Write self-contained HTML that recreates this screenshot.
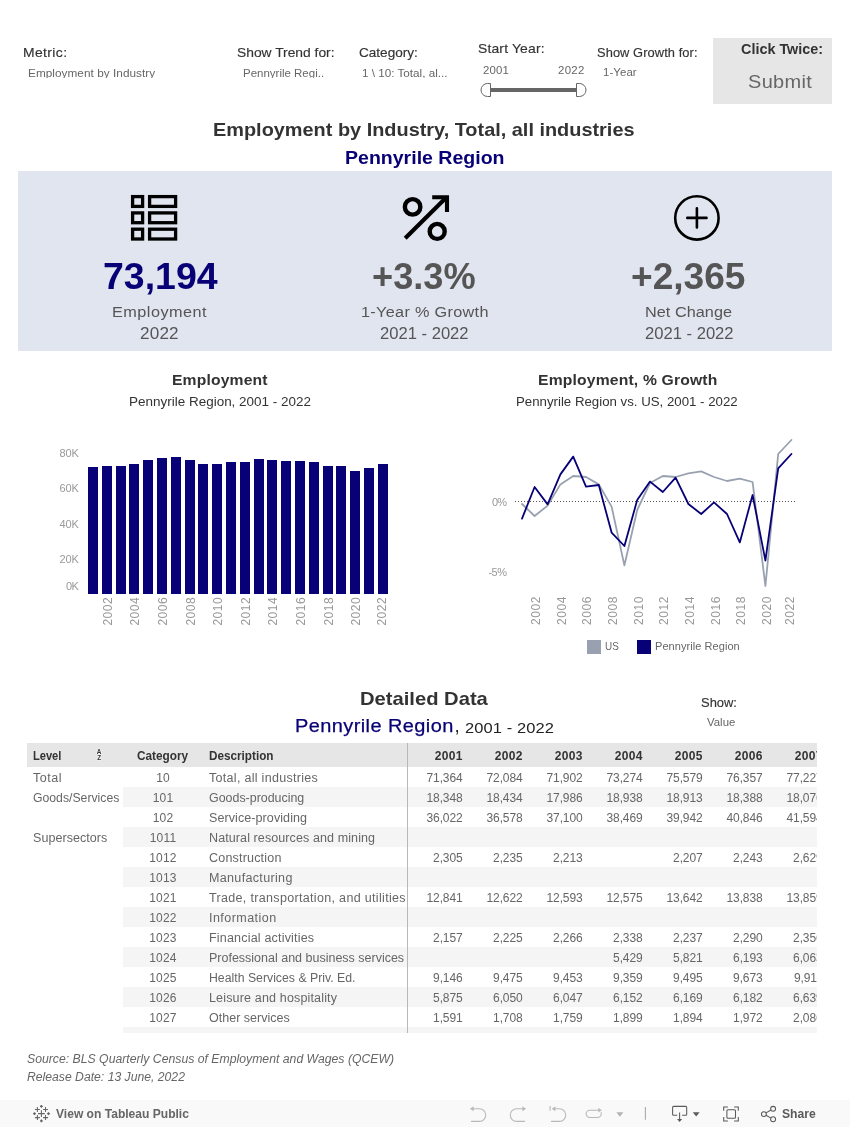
<!DOCTYPE html>
<html lang="en">
<head>
<meta charset="utf-8">
<title>Employment by Industry - Pennyrile Region</title>
<style>
html,body{margin:0;padding:0;background:#fff}
body{width:850px;height:1127px;position:relative;overflow:hidden;font-family:"Liberation Sans",Arial,sans-serif}
.abs{position:absolute}
.t{position:absolute;white-space:pre;line-height:1;transform-origin:0 0}
.clip{position:absolute;overflow:hidden}
svg{display:block;overflow:visible}
#table{position:absolute;left:27px;top:743px;width:790px;height:289.8px;overflow:hidden;font-size:12px;color:#666}
#table .hdr{position:absolute;left:0;top:0;width:100%;height:24px;line-height:27px;background:#e6e6e6;color:#333;font-weight:700}
#table .row{position:absolute;left:0;width:100%;height:20px;line-height:23px}
#table .band::before{content:"";position:absolute;left:96px;top:0;right:0;bottom:0;background:#f5f5f5}
#table span{position:absolute;top:0;white-space:pre;transform-origin:0 0}
#table .lv{left:6.3px}
#table .cat{left:96px;width:80px;text-align:center;letter-spacing:.2px}
#table .hdr .cat{left:110.3px;width:auto}
#table .ds{left:182.2px}
#table .num,#table .yr{width:55.6px;text-align:right;letter-spacing:-.1px}
#table .yr{letter-spacing:.35px;width:55.9px}
#table .sort{left:69.4px;top:6.4px;width:6px;height:12px}
#table .sort i{position:absolute;left:0;width:5.4px;text-align:center;font:700 6.4px/1 "Liberation Sans",sans-serif;color:#333;text-shadow:0 0 1px #fff,0 0 1.5px #fff,0 0 2px #fff}
#table .sort i+i{top:6.1px}
#table .vline{position:absolute;left:380px;top:0;width:1px;height:100%;background:#b8b8b8}
</style>
</head>
<body>
<div id="controls">
<div class="t" style="left:22.8px;top:45.9px;font-size:13px;color:#333333;letter-spacing:0.36px;transform:scaleX(1.070);-webkit-text-stroke:0.15px #333333;">Metric:</div>
<div class="clip" style="left:24px;top:62px;width:200px;height:15.7px"><div class="t" style="left:3.7px;top:5.5px;font-size:11px;color:#666666;letter-spacing:0.04px;transform:scaleX(1.070);">Employment by Industry</div></div>
<div class="t" style="left:237.2px;top:45.9px;font-size:13px;color:#333333;transform:scaleX(1.063);-webkit-text-stroke:0.15px #333333;">Show Trend for:</div>
<div class="clip" style="left:238px;top:62px;width:100px;height:15.7px"><div class="t" style="left:4.7px;top:5.5px;font-size:11px;color:#666666;transform:scaleX(1.044);">Pennyrile Regi..</div></div>
<div class="t" style="left:358.5px;top:45.9px;font-size:13px;color:#333333;transform:scaleX(1.044);-webkit-text-stroke:0.15px #333333;">Category:</div>
<div class="clip" style="left:358px;top:62px;width:100px;height:15.7px"><div class="t" style="left:3.8px;top:5.5px;font-size:11px;color:#666666;transform:scaleX(1.062);">1 \ 10: Total, al...</div></div>
<div class="t" style="left:477.7px;top:41.8px;font-size:13px;color:#333333;letter-spacing:0.15px;transform:scaleX(1.070);-webkit-text-stroke:0.15px #333333;">Start Year:</div>
<div class="t" style="left:482.9px;top:64.5px;font-size:10.67px;color:#666666;letter-spacing:0.15px;transform:scaleX(1.070);">2001</div>
<div class="t" style="left:558.0px;top:64.5px;font-size:10.67px;color:#666666;letter-spacing:0.29px;transform:scaleX(1.070);">2022</div>
<svg class="abs" style="left:478px;top:80px" width="112" height="20" viewBox="478 80 112 20">
<rect x="490" y="88" width="87" height="4" fill="#666"/>
<path d="M490.5 83.5h-3a6.5 6.5 0 0 0 0 13h3z" fill="#fff" stroke="#666" stroke-width="1"/>
<path d="M576.5 83.5h3a6.5 6.5 0 0 1 0 13h-3z" fill="#fff" stroke="#666" stroke-width="1"/>
</svg>
<div class="t" style="left:597.2px;top:46.9px;font-size:12px;color:#333333;letter-spacing:0.08px;transform:scaleX(1.070);-webkit-text-stroke:0.15px #333333;">Show Growth for:</div>
<div class="t" style="left:602.7px;top:66.5px;font-size:10.67px;color:#666666;letter-spacing:0.08px;transform:scaleX(1.070);">1-Year</div>
<div class="abs" id="submit" style="left:713px;top:38px;width:119px;height:66px;background:#e6e6e6"></div>
<div class="t" style="left:740.5px;top:41.7px;font-size:14.67px;color:#333333;transform:scaleX(0.982);font-weight:700;">Click Twice:</div>
<div class="t" style="left:748.3px;top:72.5px;font-size:18.67px;color:#666666;letter-spacing:0.30px;transform:scaleX(1.070);">Submit</div>
</div>
<div class="t" style="left:213.4px;top:120.2px;font-size:19px;color:#333333;transform:scaleX(1.047);font-weight:700;">Employment by Industry, Total, all industries</div>
<div class="t" style="left:345.3px;top:148.0px;font-size:19px;color:#080076;transform:scaleX(1.028);font-weight:700;">Pennyrile Region</div>
<div class="abs" id="kpis" style="left:18px;top:171px;width:814px;height:180px;background:#e1e5f0"></div>
<svg class="abs" style="left:129px;top:193px" width="50" height="50" viewBox="129 193 50 50" fill="none" stroke="#000" stroke-width="3.3">
<rect x="132.6" y="196.6" width="10" height="9.8"/><rect x="149.6" y="196.6" width="26" height="9.8"/>
<rect x="132.6" y="212.9" width="10" height="9.8"/><rect x="149.6" y="212.9" width="26" height="9.8"/>
<rect x="132.6" y="229.2" width="10" height="9.8"/><rect x="149.6" y="229.2" width="26" height="9.8"/>
</svg>
<svg class="abs" style="left:398px;top:190px" width="56" height="56" viewBox="398 190 56 56" fill="none" stroke="#000" stroke-width="4.1">
<circle cx="412.6" cy="206.9" r="7.75" stroke-width="4.4"/><circle cx="437.2" cy="231.4" r="7.5" stroke-width="4.4"/>
<path d="M405.2 238.2L446.5 197.3"/><path d="M432.2 197.2H447V211.9" stroke-linejoin="miter"/>
</svg>
<svg class="abs" style="left:670px;top:191px" width="54" height="54" viewBox="670 191 54 54" fill="none" stroke="#000" stroke-width="2.6" stroke-linecap="round">
<circle cx="696.9" cy="217.9" r="21.7"/><path d="M687.3 217.9h19.2M696.9 208.3v19.2"/>
</svg>
<div class="t" style="left:102.7px;top:258.7px;font-size:36px;color:#080076;transform:scaleX(1.041);font-weight:700;">73,194</div>
<div class="t" style="left:372.4px;top:258.7px;font-size:36px;color:#555;transform:scaleX(1.005);font-weight:700;">+3.3%</div>
<div class="t" style="left:631.3px;top:258.7px;font-size:36px;color:#555;transform:scaleX(1.030);font-weight:700;">+2,365</div>
<div class="t" style="left:112.2px;top:303.8px;font-size:15.2px;color:#555;letter-spacing:0.44px;transform:scaleX(1.070);">Employment</div>
<div class="t" style="left:139.7px;top:326.3px;font-size:16px;color:#555;letter-spacing:0.16px;transform:scaleX(1.070);">2022</div>
<div class="t" style="left:361.2px;top:303.7px;font-size:15.2px;color:#555;letter-spacing:0.29px;transform:scaleX(1.070);">1-Year % Growth</div>
<div class="t" style="left:379.8px;top:326.1px;font-size:16px;color:#555;transform:scaleX(1.037);">2021 - 2022</div>
<div class="t" style="left:645.4px;top:303.7px;font-size:15.2px;color:#555;letter-spacing:0.03px;transform:scaleX(1.070);">Net Change</div>
<div class="t" style="left:644.8px;top:326.1px;font-size:16px;color:#555;transform:scaleX(1.037);">2021 - 2022</div>
<div class="t" style="left:172.3px;top:373.1px;font-size:14.67px;color:#333333;letter-spacing:0.15px;transform:scaleX(1.070);font-weight:700;">Employment</div>
<div class="t" style="left:129.3px;top:394.8px;font-size:13.33px;color:#333333;transform:scaleX(1.011);">Pennyrile Region, 2001 - 2022</div>
<svg class="abs" id="barchart" style="left:40px;top:430px" width="370" height="210" viewBox="40 430 370 210" font-family="Liberation Sans, sans-serif">
<g fill="#080076">
<rect x="88" y="467" width="10" height="127"/>
<rect x="102" y="466" width="10" height="128"/>
<rect x="116" y="466" width="10" height="128"/>
<rect x="129" y="464" width="10" height="130"/>
<rect x="143" y="460" width="10" height="134"/>
<rect x="157" y="458" width="10" height="136"/>
<rect x="171" y="457" width="10" height="137"/>
<rect x="185" y="460" width="10" height="134"/>
<rect x="198" y="464" width="10" height="130"/>
<rect x="212" y="464" width="10" height="130"/>
<rect x="226" y="462" width="10" height="132"/>
<rect x="240" y="462" width="10" height="132"/>
<rect x="254" y="459" width="10" height="135"/>
<rect x="267" y="460" width="10" height="134"/>
<rect x="281" y="461" width="10" height="133"/>
<rect x="295" y="461" width="10" height="133"/>
<rect x="309" y="462" width="10" height="132"/>
<rect x="323" y="466" width="10" height="128"/>
<rect x="336" y="466" width="10" height="128"/>
<rect x="350" y="471" width="10" height="123"/>
<rect x="364" y="468" width="10" height="126"/>
<rect x="378" y="464" width="10" height="130"/>
</g>
<g fill="#999999" font-size="11" text-anchor="end">
<text x="78.8" y="457" textLength="19.3" lengthAdjust="spacing">80K</text>
<text x="78.8" y="492.3" textLength="19.3" lengthAdjust="spacing">60K</text>
<text x="78.8" y="527.7" textLength="19.3" lengthAdjust="spacing">40K</text>
<text x="78.8" y="563" textLength="19.3" lengthAdjust="spacing">20K</text>
<text x="78.8" y="590" textLength="12.9" lengthAdjust="spacing">0K</text>
</g>
<g fill="#999999" font-size="12" text-anchor="end">
<text transform="translate(112 597.3) rotate(-90)" textLength="28.3" lengthAdjust="spacing">2002</text>
<text transform="translate(139 597.3) rotate(-90)" textLength="28.3" lengthAdjust="spacing">2004</text>
<text transform="translate(167 597.3) rotate(-90)" textLength="28.3" lengthAdjust="spacing">2006</text>
<text transform="translate(195 597.3) rotate(-90)" textLength="28.3" lengthAdjust="spacing">2008</text>
<text transform="translate(222 597.3) rotate(-90)" textLength="28.3" lengthAdjust="spacing">2010</text>
<text transform="translate(250 597.3) rotate(-90)" textLength="28.3" lengthAdjust="spacing">2012</text>
<text transform="translate(277 597.3) rotate(-90)" textLength="28.3" lengthAdjust="spacing">2014</text>
<text transform="translate(305 597.3) rotate(-90)" textLength="28.3" lengthAdjust="spacing">2016</text>
<text transform="translate(333 597.3) rotate(-90)" textLength="28.3" lengthAdjust="spacing">2018</text>
<text transform="translate(360 597.3) rotate(-90)" textLength="28.3" lengthAdjust="spacing">2020</text>
<text transform="translate(386 597.3) rotate(-90)" textLength="28.3" lengthAdjust="spacing">2022</text>
</g></svg>
<div class="t" style="left:538.4px;top:373.1px;font-size:14.67px;color:#333333;letter-spacing:0.16px;transform:scaleX(1.070);font-weight:700;">Employment, % Growth</div>
<div class="t" style="left:516.3px;top:394.8px;font-size:13.33px;color:#333333;transform:scaleX(0.994);">Pennyrile Region vs. US, 2001 - 2022</div>
<svg class="abs" id="linechart" style="left:480px;top:430px" width="340" height="210" viewBox="480 430 340 210" font-family="Liberation Sans, sans-serif">
<line x1="515" y1="501.5" x2="796" y2="501.5" stroke="#555" stroke-width="1" stroke-dasharray="1 2"/>
<polyline fill="none" stroke="#99a1b0" stroke-width="1.8" stroke-linejoin="round" stroke-linecap="round" points="522,504 534.6,516 547.6,505.6 560.4,484.4 573.2,476 586,477 598.8,484.4 611.6,506.6 624.4,565.4 637.2,510 650,483 662.8,476 675.6,477 688.4,473.4 701.2,471.4 714,477 727,481 739.8,478.6 752.6,482 765.4,586 778.2,454 791.4,440"/>
<polyline fill="none" stroke="#080076" stroke-width="1.8" stroke-linejoin="round" stroke-linecap="round" points="522,518.6 534.6,487 547.6,504.4 560.4,474.4 573.2,456.6 586,486.6 598.8,485 611.6,532.6 624.4,546 637.2,500 650,481.6 662.8,492 675.6,477.6 688.4,504 701.2,514 714,502.4 727,514 739.8,542.4 752.6,495 765.4,560.6 778.2,468.4 791.4,454"/>
<g fill="#999999" font-size="11" text-anchor="end">
<text x="507" y="506" textLength="15" lengthAdjust="spacing">0%</text>
<text x="507" y="576.4" textLength="18.6" lengthAdjust="spacing">-5%</text>
</g>
<g fill="#999999" font-size="12" text-anchor="end">
<text transform="translate(540.0 596.5) rotate(-90)" textLength="28.6" lengthAdjust="spacing">2002</text>
<text transform="translate(565.7 596.5) rotate(-90)" textLength="28.6" lengthAdjust="spacing">2004</text>
<text transform="translate(591.4 596.5) rotate(-90)" textLength="28.6" lengthAdjust="spacing">2006</text>
<text transform="translate(617.0 596.5) rotate(-90)" textLength="28.6" lengthAdjust="spacing">2008</text>
<text transform="translate(642.7 596.5) rotate(-90)" textLength="28.6" lengthAdjust="spacing">2010</text>
<text transform="translate(668.3 596.5) rotate(-90)" textLength="28.6" lengthAdjust="spacing">2012</text>
<text transform="translate(694.0 596.5) rotate(-90)" textLength="28.6" lengthAdjust="spacing">2014</text>
<text transform="translate(719.7 596.5) rotate(-90)" textLength="28.6" lengthAdjust="spacing">2016</text>
<text transform="translate(745.3 596.5) rotate(-90)" textLength="28.6" lengthAdjust="spacing">2018</text>
<text transform="translate(771.0 596.5) rotate(-90)" textLength="28.6" lengthAdjust="spacing">2020</text>
<text transform="translate(794.2 596.5) rotate(-90)" textLength="28.6" lengthAdjust="spacing">2022</text>
</g></svg>
<div class="abs" style="left:587px;top:640px;width:14px;height:14px;background:#99a1b0"></div>
<div class="t" style="left:605.3px;top:642.4px;font-size:10.3px;color:#666666;transform:scaleX(0.962);">US</div>
<div class="abs" style="left:637px;top:640px;width:14px;height:14px;background:#080076"></div>
<div class="t" style="left:655.3px;top:642.4px;font-size:10.3px;color:#666666;letter-spacing:0.05px;transform:scaleX(1.070);">Pennyrile Region</div>
<div class="t" style="left:360.2px;top:689.0px;font-size:19px;color:#333333;transform:scaleX(1.062);font-weight:700;">Detailed Data</div>
<div class="t" style="left:295.3px;top:717.2px;font-size:18.67px;color:#080076;letter-spacing:0.39px;transform:scaleX(1.070);-webkit-text-stroke:0.25px #080076;">Pennyrile Region</div>
<div class="t" style="left:454.6px;top:717.2px;font-size:18.67px;color:#222;">,</div>
<div class="t" style="left:464.7px;top:719.8px;font-size:15.4px;color:#222;letter-spacing:0.10px;transform:scaleX(1.070);">2001 - 2022</div>
<div class="t" style="left:700.7px;top:696.9px;font-size:12.6px;color:#333333;transform:scaleX(1.027);-webkit-text-stroke:0.15px #333333;">Show:</div>
<div class="t" style="left:706.9px;top:717.0px;font-size:10.67px;color:#666666;letter-spacing:0.01px;transform:scaleX(1.070);">Value</div>
<div id="table">
<div class="hdr"><span class="lv" style="letter-spacing:-0.04px;transform:scaleX(0.930)">Level</span><span class="sort"><i>A</i><i>Z</i></span><span class="cat" style="letter-spacing:0.00px;transform:scaleX(0.984)">Category</span><span class="ds" style="letter-spacing:0.00px;transform:scaleX(0.977)">Description</span><span class="yr" style="left:380px">2001</span><span class="yr" style="left:440px">2002</span><span class="yr" style="left:500px">2003</span><span class="yr" style="left:560px">2004</span><span class="yr" style="left:620px">2005</span><span class="yr" style="left:680px">2006</span><span class="yr" style="left:740px">2007</span></div>
<div class="row" style="top:24px"><span class="lv" style="letter-spacing:0.48px;transform:scaleX(1.045)">Total</span><span class="cat">10</span><span class="ds" style="letter-spacing:0.27px;transform:scaleX(1.045)">Total, all industries</span><span class="num" style="left:380px">71,364</span><span class="num" style="left:440px">72,084</span><span class="num" style="left:500px">71,902</span><span class="num" style="left:560px">73,274</span><span class="num" style="left:620px">75,579</span><span class="num" style="left:680px">76,357</span><span class="num" style="left:740px">77,227</span></div>
<div class="row band" style="top:44px"><span class="lv" style="letter-spacing:0.00px;transform:scaleX(1.019)">Goods/Services</span><span class="cat">101</span><span class="ds" style="letter-spacing:0.00px;transform:scaleX(1.035)">Goods-producing</span><span class="num" style="left:380px">18,348</span><span class="num" style="left:440px">18,434</span><span class="num" style="left:500px">17,986</span><span class="num" style="left:560px">18,938</span><span class="num" style="left:620px">18,913</span><span class="num" style="left:680px">18,388</span><span class="num" style="left:740px">18,076</span></div>
<div class="row" style="top:64px"><span class="cat">102</span><span class="ds" style="letter-spacing:0.07px;transform:scaleX(1.045)">Service-providing</span><span class="num" style="left:380px">36,022</span><span class="num" style="left:440px">36,578</span><span class="num" style="left:500px">37,100</span><span class="num" style="left:560px">38,469</span><span class="num" style="left:620px">39,942</span><span class="num" style="left:680px">40,846</span><span class="num" style="left:740px">41,594</span></div>
<div class="row band" style="top:84px"><span class="lv" style="letter-spacing:0.04px;transform:scaleX(1.045)">Supersectors</span><span class="cat">1011</span><span class="ds" style="letter-spacing:0.08px;transform:scaleX(1.045)">Natural resources and mining</span></div>
<div class="row" style="top:104px"><span class="cat">1012</span><span class="ds" style="letter-spacing:0.17px;transform:scaleX(1.045)">Construction</span><span class="num" style="left:380px">2,305</span><span class="num" style="left:440px">2,235</span><span class="num" style="left:500px">2,213</span><span class="num" style="left:620px">2,207</span><span class="num" style="left:680px">2,243</span><span class="num" style="left:740px">2,629</span></div>
<div class="row band" style="top:124px"><span class="cat">1013</span><span class="ds" style="letter-spacing:0.31px;transform:scaleX(1.045)">Manufacturing</span></div>
<div class="row" style="top:144px"><span class="cat">1021</span><span class="ds" style="letter-spacing:0.30px;transform:scaleX(1.045)">Trade, transportation, and utilities</span><span class="num" style="left:380px">12,841</span><span class="num" style="left:440px">12,622</span><span class="num" style="left:500px">12,593</span><span class="num" style="left:560px">12,575</span><span class="num" style="left:620px">13,642</span><span class="num" style="left:680px">13,838</span><span class="num" style="left:740px">13,859</span></div>
<div class="row band" style="top:164px"><span class="cat">1022</span><span class="ds" style="letter-spacing:0.42px;transform:scaleX(1.045)">Information</span></div>
<div class="row" style="top:184px"><span class="cat">1023</span><span class="ds" style="letter-spacing:0.17px;transform:scaleX(1.045)">Financial activities</span><span class="num" style="left:380px">2,157</span><span class="num" style="left:440px">2,225</span><span class="num" style="left:500px">2,266</span><span class="num" style="left:560px">2,338</span><span class="num" style="left:620px">2,237</span><span class="num" style="left:680px">2,290</span><span class="num" style="left:740px">2,356</span></div>
<div class="row band" style="top:204px"><span class="cat">1024</span><span class="ds" style="letter-spacing:-0.00px;transform:scaleX(1.041)">Professional and business services</span><span class="num" style="left:560px">5,429</span><span class="num" style="left:620px">5,821</span><span class="num" style="left:680px">6,193</span><span class="num" style="left:740px">6,063</span></div>
<div class="row" style="top:224px"><span class="cat">1025</span><span class="ds" style="letter-spacing:0.00px;transform:scaleX(1.023)">Health Services &amp; Priv. Ed.</span><span class="num" style="left:380px">9,146</span><span class="num" style="left:440px">9,475</span><span class="num" style="left:500px">9,453</span><span class="num" style="left:560px">9,359</span><span class="num" style="left:620px">9,495</span><span class="num" style="left:680px">9,673</span><span class="num" style="left:740px">9,911</span></div>
<div class="row band" style="top:244px"><span class="cat">1026</span><span class="ds" style="letter-spacing:0.14px;transform:scaleX(1.045)">Leisure and hospitality</span><span class="num" style="left:380px">5,875</span><span class="num" style="left:440px">6,050</span><span class="num" style="left:500px">6,047</span><span class="num" style="left:560px">6,152</span><span class="num" style="left:620px">6,169</span><span class="num" style="left:680px">6,182</span><span class="num" style="left:740px">6,639</span></div>
<div class="row" style="top:264px"><span class="cat">1027</span><span class="ds" style="letter-spacing:0.00px;transform:scaleX(1.045)">Other services</span><span class="num" style="left:380px">1,591</span><span class="num" style="left:440px">1,708</span><span class="num" style="left:500px">1,759</span><span class="num" style="left:560px">1,899</span><span class="num" style="left:620px">1,894</span><span class="num" style="left:680px">1,972</span><span class="num" style="left:740px">2,086</span></div>
<div class="row band" style="top:284px"></div>
<div class="vline"></div>
</div>
<div class="t" style="left:27.0px;top:1053.2px;font-size:12px;color:#666666;transform:scaleX(1.020);font-style:italic;">Source: BLS Quarterly Census of Employment and Wages (QCEW)</div>
<div class="t" style="left:27.0px;top:1071.0px;font-size:12px;color:#666666;transform:scaleX(1.016);font-style:italic;">Release Date: 13 June, 2022</div>
<div id="toolbar" class="abs" style="left:0;top:1100px;width:850px;height:27px;background:#f9f9f9"></div>
<svg class="abs" style="left:30px;top:1102px" width="24" height="24" viewBox="30 1102 24 24" stroke="#666" stroke-width="1.05" fill="none">
<path d="M38 1113.6h6.8M41.4 1110.2v6.8"/>
<path d="M34.9 1109.4h5M37.4 1106.9v5M43 1109.4h5M45.5 1106.9v5M34.9 1117.6h5M37.4 1115.1v5M43 1117.6h5M45.5 1115.1v5"/>
<path d="M40 1106.3h2.8M41.4 1104.9v2.8M40 1120.8h2.8M41.4 1119.4v2.8M33.1 1113.6h2.8M34.5 1112.2v2.8M47.1 1113.6h2.8M48.5 1112.2v2.8" stroke-width="1.3"/>
</svg>
<div class="t" style="left:56.0px;top:1108.0px;font-size:12px;color:#666666;transform:scaleX(1.005);font-weight:700;">View on Tableau Public</div>
<svg class="abs" style="left:465px;top:1102px" width="190" height="24" viewBox="465 1102 190 24" fill="none" stroke="#b9b9b9" stroke-width="1.1">
<path d="M471 1121.4h8.4a6.35 6.35 0 0 0 0-12.7h-8.6"/><path d="M473.6 1106.2l-3.6 2.5 3.6 2.5z" fill="#b9b9b9" stroke="none"/>
<path d="M525 1121.4h-8.4a6.35 6.35 0 0 1 0-12.7h8.6"/><path d="M522.4 1106.2l3.6 2.5-3.6 2.5z" fill="#b9b9b9" stroke="none"/>
<path d="M551 1121.4h8.4a6.35 6.35 0 0 0 0-12.7h-6.6"/><path d="M555.4 1106.2l-3.6 2.5 3.6 2.5z" fill="#b9b9b9" stroke="none"/><path d="M550.1 1105.9v4.8"/>
<path d="M601.2 1112.2v1.6a3.7 3.7 0 0 1-3.7 3.7h-7.7a3.65 3.65 0 0 1 0-7.3h10.6"/><path d="M598.4 1107.8l3.4 2.4-3.4 2.4z" fill="#b9b9b9" stroke="none"/>
<path d="M616.4 1112.3h7l-3.5 4.4z" fill="#b3b3b3" stroke="none"/>
<path d="M645.4 1107v12.8" stroke="#aaa"/>
</svg>
<svg class="abs" style="left:668px;top:1102px" width="115" height="24" viewBox="668 1102 115 24" fill="none" stroke="#5a5a5a" stroke-width="1.05">
<path d="M677.2 1115.2h-3.6a1 1 0 0 1-1-1v-6.8a1 1 0 0 1 1-1h12.1a1 1 0 0 1 1 1v6.8a1 1 0 0 1-1 1h-3.6"/><path d="M679.6 1112.6v7"/><path d="M677 1118.9h5.2l-2.6 3.1z" fill="#5a5a5a" stroke="none"/>
<path d="M692.8 1112.2h6.8l-3.4 4.4z" fill="#5a5a5a" stroke="none"/>
<path d="M723.7 1110.8v-3.8h4.2M734.1 1107h4.2v3.8M738.3 1117.1v3.8h-4.2M727.9 1120.9h-4.2v-3.8"/>
<rect x="726.9" y="1109.7" width="8.6" height="8.6" rx="1"/>
<circle cx="763.9" cy="1114.1" r="2.45"/><circle cx="773.1" cy="1108.8" r="2.45"/><circle cx="773.1" cy="1119.2" r="2.45"/>
<path d="M766 1112.9l5-2.9M766 1115.3l5 2.8"/>
</svg>
<div class="t" style="left:781.8px;top:1108.0px;font-size:12px;color:#5a5a5a;transform:scaleX(1.012);font-weight:700;">Share</div>
</body>
</html>
